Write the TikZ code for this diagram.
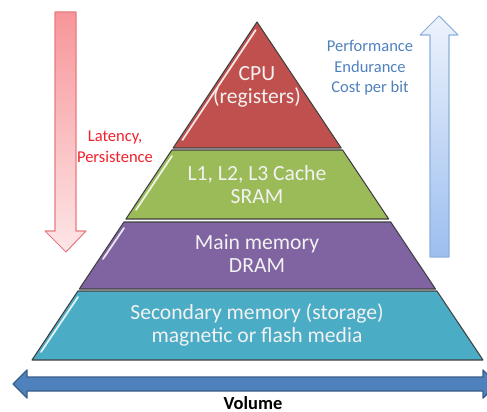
\documentclass[tikz,border=0pt]{standalone}
\usepackage{fontspec}
\setmainfont{Carlito}
\definecolor{cred}{HTML}{C0504D}
\definecolor{cgreen}{HTML}{9BBB59}
\definecolor{cpurple}{HTML}{8064A2}
\definecolor{ccyan}{HTML}{4BACC6}
\definecolor{cblue}{HTML}{4F81BD}
\definecolor{cbluedark}{HTML}{385D8A}
\definecolor{cedge}{HTML}{404040}
\definecolor{ctxtred}{HTML}{F0202A}
\definecolor{ctxtblue}{HTML}{4F81BD}
\definecolor{cpinktop}{HTML}{F7969A}
\definecolor{cpinkbot}{HTML}{FDE6E7}
\definecolor{cpinkedge}{HTML}{E77C80}
\definecolor{cskytop}{HTML}{EDF3FC}
\definecolor{cskybot}{HTML}{9CBEEF}
\definecolor{cskyedge}{HTML}{8DB0DE}
\tikzset{
  every picture/.style={line join=round},
  band/.style={fill=#1, draw=cedge, line width=0.6pt},
  gloss/.style={draw=white, line width=1pt, line cap=round, opacity=0.85},
  lvl/.style={text=white!95!black, align=center, font=\fontsize{12.3}{13.1}\selectfont},
  side/.style={align=center, font=\fontsize{9.4}{11.7}\selectfont},
}

\begin{document}
\begin{tikzpicture}[x=0.02cm, y=-0.02cm]
  \useasboundingbox (0,0) rectangle (487,412);
  \clip (0,0) rectangle (487,412);
  % side arrows
  \draw[draw=cpinkedge, line width=0.6pt, top color=cpinktop, bottom color=cpinkbot]
    (55,12) -- (76,12) -- (76,231) -- (86,231) -- (66,252) -- (45,231) -- (55,231) -- cycle;
  \draw[draw=cskyedge, line width=0.6pt, top color=cskytop, bottom color=cskybot]
    (430,257) -- (449,257) -- (449,35) -- (458,35) -- (439,16) -- (420,35) -- (430,35) -- cycle;
  \node[side, text=ctxtred] (lat) at (115,147) {Latency,\\Persistence};
  \node[side, text=ctxtblue] (perf) at (370,68) {Performance\\Endurance\\Cost per bit};
  % pyramid
  \draw[band=cred] (257,22) -- (341.2,148) -- (173.1,148) -- cycle;
  \draw[band=cgreen] (171.8,150) -- (342.6,150) -- (388.7,219) -- (125.9,219) -- cycle;
  \draw[band=cpurple] (123.9,222) -- (390.7,222) -- (435.5,289) -- (79.3,289) -- cycle;
  \draw[band=ccyan] (77.9,291) -- (436.9,291) -- (483,360) -- (32,360) -- cycle;
  \draw[gloss] (255.7,30) -- (182.4,140);
  \draw[gloss] (172,156) -- (136,210);
  \draw[gloss] (124,228) -- (103,259);
  \draw[gloss] (78,297) -- (41,352);
  \node[lvl] (cpu) at (257,87) {CPU\\(registers)};
  \node[lvl] (cache) at (257,185) {L1, L2, L3 Cache\\SRAM};
  \node[lvl] (dram) at (257,254) {Main memory\\DRAM};
  \node[lvl] (disk) at (257,325) {Secondary memory (storage)\\magnetic or flash media};
  % volume
  \draw[fill=cblue, draw=cbluedark, line width=0.8pt]
    (13,384) -- (27,370) -- (27,377) -- (483,377) -- (483,370) -- (497,384)
    -- (483,398) -- (483,391) -- (27,391) -- (27,398) -- cycle;
  \node[font=\fontsize{10.5}{12}\selectfont\bfseries] (vol) at (253,403) {Volume};
\end{tikzpicture}
\end{document}
